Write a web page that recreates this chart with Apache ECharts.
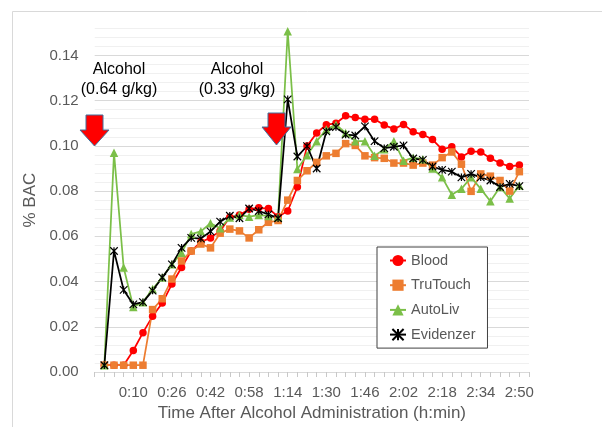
<!DOCTYPE html>
<html>
<head>
<meta charset="utf-8">
<script src="https://cdn.jsdelivr.net/npm/echarts@6/dist/echarts.min.js"></script>
<style>
html,body{margin:0;padding:0;background:#fff;}
#chart{width:602px;height:427px;}
</style>
</head>
<body>
<div id="chart"></div>
<script>
// Category labels (4-min steps; first and last slots are empty padding slots)
var categories = ["", "0:00", "0:02", "0:06", "0:10", "0:14", "0:18", "0:22", "0:26", "0:30", "0:34", "0:38",
  "0:42", "0:46", "0:50", "0:54", "0:58", "1:02", "1:06", "1:10", "1:14", "1:18", "1:22", "1:26",
  "1:30", "1:34", "1:38", "1:42", "1:46", "1:50", "1:54", "1:58", "2:02", "2:06", "2:10", "2:14",
  "2:18", "2:22", "2:26", "2:30", "2:34", "2:38", "2:42", "2:46", "2:50", ""];

var blood = [null, 0.003, 0.003, 0.003, 0.0095, 0.0174, 0.0247, 0.0305, 0.0389, 0.0462, 0.0535, 0.0575,
  0.0593, 0.0624, 0.0684, 0.0694, 0.0720, 0.0726, 0.0723, 0.0687, 0.0712, 0.0818, 0.0999, 0.1057,
  0.1094, 0.1100, 0.1133, 0.1125, 0.1118, 0.1118, 0.1092, 0.1075, 0.1095, 0.1062, 0.1050, 0.1028,
  0.0985, 0.0996, 0.0951, 0.0976, 0.0973, 0.0945, 0.0924, 0.0909, 0.0915, null];

var truTouch = [null, 0.003, 0.003, 0.003, 0.003, 0.003, 0.0276, 0.0324, 0.0411, 0.0491, 0.0535, 0.0566,
  0.0549, 0.0614, 0.0632, 0.0624, 0.0593, 0.0629, 0.0662, 0.0670, 0.0760, 0.0847, 0.0890, 0.0927,
  0.0956, 0.0967, 0.1010, 0.1002, 0.0956, 0.0948, 0.0945, 0.0924, 0.0924, 0.0915, 0.0924, 0.0915,
  0.0948, 0.0973, 0.0919, 0.0799, 0.0876, 0.0866, 0.0847, 0.0800, 0.0886, null];

var autoLiv = [null, 0.003, 0.0970, 0.0462, 0.0288, 0.0309, 0.0367, 0.0418, 0.0476, 0.0527, 0.0610, 0.0622,
  0.0658, 0.0636, 0.0683, 0.0694, 0.0687, 0.0694, 0.0690, 0.0685, 0.1507, 0.0898, 0.0959, 0.1021,
  0.1072, 0.1094, 0.1057, 0.1021, 0.1021, 0.0956, 0.0985, 0.1021, 0.0934, 0.0948, 0.0941, 0.0900,
  0.0861, 0.0784, 0.0810, 0.0861, 0.0810, 0.0755, 0.0818, 0.0767, 0.0825, null];

var evidenzer = [null, 0.003, 0.0535, 0.0363, 0.0299, 0.0309, 0.0360, 0.0418, 0.0476, 0.0549, 0.0593, 0.0590,
  0.0622, 0.0665, 0.0691, 0.0680, 0.0723, 0.0712, 0.0697, 0.0680, 0.1206, 0.0953, 0.0999, 0.0900,
  0.1064, 0.1083, 0.1050, 0.1046, 0.1086, 0.1021, 0.0990, 0.0996, 0.1002, 0.0944, 0.0938, 0.0909,
  0.0894, 0.0886, 0.0861, 0.0876, 0.0861, 0.0847, 0.0818, 0.0832, 0.0822, null];

var seriesNames = ["Blood", "TruTouch", "AutoLiv", "Evidenzer"];
var yTickLabels = ["0.00", "0.02", "0.04", "0.06", "0.08", "0.10", "0.12", "0.14"];

var FONT = "Liberation Sans";
var GRAY = "#595959";
var starPath = 'path://M0,0L10,10M10,0L0,10M5,0L5,10';

var chart = echarts.init(document.getElementById('chart'), null, {renderer: 'canvas'});

function mkSeries(name, data, color, symbol, size, extra) {
  var s = {
    name: name, type: 'line', data: data,
    symbol: symbol, symbolSize: size,
    showSymbol: true, showAllSymbol: true,
    lineStyle: {color: color, width: 1.75},
    itemStyle: {color: color},
    emphasis: {disabled: true},
    animation: false,
    connectNulls: false
  };
  if (extra) { for (var k in extra) s[k] = extra[k]; }
  return s;
}

var option = {
  backgroundColor: '#fff',
  animation: false,
  grid: {left: 94.7, right: 73, top: 28.3, bottom: 51, containLabel: false},
  legend: {
    orient: 'vertical', left: 377, top: 247,
    padding: [6, 12, 6, 12], itemGap: 9.7, itemWidth: 16, itemHeight: 14,
    borderColor: '#404040', borderWidth: 1, backgroundColor: '#fff',
    textStyle: {fontFamily: FONT, fontSize: 14.5, color: GRAY},
    data: seriesNames
  },
  xAxis: {
    type: 'category', data: categories, boundaryGap: false,
    name: 'Time After Alcohol Administration (h:min)', nameLocation: 'middle', nameGap: 33,
    nameTextStyle: {fontFamily: FONT, fontSize: 17, color: GRAY},
    axisLine: {lineStyle: {color: '#d9d9d9'}},
    axisTick: {show: true, interval: 0, length: 5, lineStyle: {color: '#c8c8c8'}},
    axisLabel: {interval: 3, margin: 13, fontFamily: FONT, fontSize: 15, color: GRAY},
    splitLine: {show: false}
  },
  yAxis: {
    type: 'value', min: 0, max: 0.152, interval: 0.004,
    name: '% BAC', nameLocation: 'middle', nameGap: 49,
    nameTextStyle: {fontFamily: FONT, fontSize: 17, color: GRAY},
    axisLine: {show: false}, axisTick: {show: false},
    axisLabel: {
      margin: 16, fontFamily: FONT, fontSize: 15, color: GRAY,
      formatter: function (v) {
        var k = Math.round(v / 0.004);
        if (k % 5 !== 0) return '';
        return yTickLabels[k / 5] || '';
      }
    },
    splitLine: {lineStyle: {color: ['#d9d9d9', '#f0f0f0', '#f0f0f0', '#f0f0f0', '#f0f0f0'], width: 1}}
  },
  series: [
    mkSeries(seriesNames[0], blood, '#ff0000', 'circle', 7.5),
    mkSeries(seriesNames[1], truTouch, '#ed7d31', 'rect', 7.5),
    mkSeries(seriesNames[2], autoLiv, '#7bbf48', 'triangle', 8.5),
    mkSeries(seriesNames[3], evidenzer, '#000000', starPath, 7.5,
      {itemStyle: {color: 'rgba(0,0,0,0)', borderColor: '#000', borderWidth: 1.2}})
  ],
  graphic: [
    {type: 'rect', silent: true, z: -10, shape: {x: 12.5, y: 11.5, width: 700, height: 500},
      style: {fill: 'none', stroke: '#d9d9d9', lineWidth: 1}},
    {type: 'polygon', silent: true, z: 100,
      shape: {points: [[86,115],[103,115],[103,130],[109,130],[94.5,146],[80,130],[86,130]]},
      style: {fill: '#ff0000', stroke: '#41719c', lineWidth: 1}},
    {type: 'polygon', silent: true, z: 100,
      shape: {points: [[268,113],[285,113],[285,127],[291,127],[276.5,145],[262,127],[268,127]]},
      style: {fill: '#ff0000', stroke: '#41719c', lineWidth: 1}},
    {type: 'text', silent: true, z: 100, style: {x: 119, y: 70, text: 'Alcohol', align: 'center', verticalAlign: 'middle',
      font: '16px "Liberation Sans"', fill: '#000'}},
    {type: 'text', silent: true, z: 100, style: {x: 119, y: 90, text: '(0.64 g/kg)', align: 'center', verticalAlign: 'middle',
      font: '16px "Liberation Sans"', fill: '#000'}},
    {type: 'text', silent: true, z: 100, style: {x: 237, y: 70, text: 'Alcohol', align: 'center', verticalAlign: 'middle',
      font: '16px "Liberation Sans"', fill: '#000'}},
    {type: 'text', silent: true, z: 100, style: {x: 237, y: 90, text: '(0.33 g/kg)', align: 'center', verticalAlign: 'middle',
      font: '16px "Liberation Sans"', fill: '#000'}}
  ]
};
chart.setOption(option);
</script>
</body>
</html>
